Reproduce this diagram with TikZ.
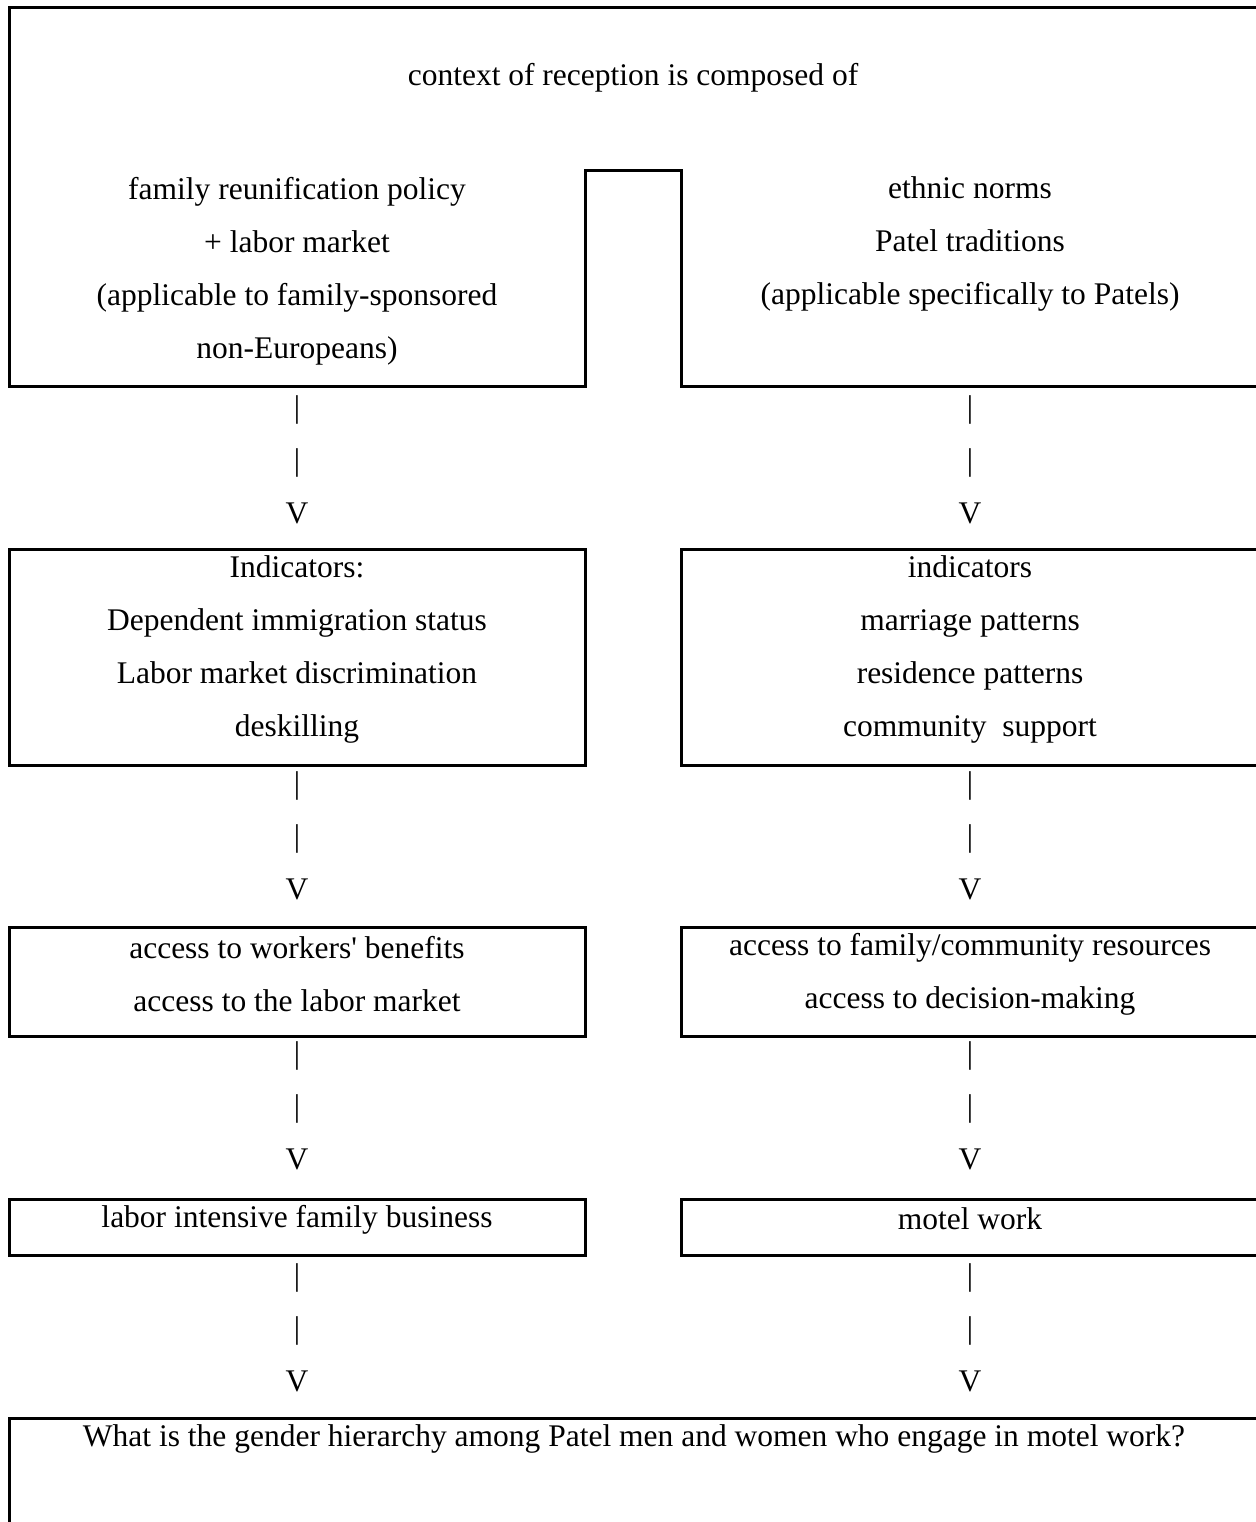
\documentclass[tikz,border=0pt]{standalone}
\usepackage{fontspec}
\setmainfont{Liberation Serif}
\usetikzlibrary{positioning}
\newlength\pxu
\setlength\pxu{0.381pt}
\tikzset{
  txt/.style   = {align=center, inner sep=0pt},
  box/.style   = {rectangle, draw=black, line width=3\pxu, minimum height=#1, inner sep=0pt},
  boxleft/.style  = {box=#1, minimum width=576\pxu},
  boxright/.style = {box=#1, minimum width=580\pxu},
  link/.style  = {align=center, inner sep=0pt},
  frame/.style = {draw=black, line width=3\pxu}
}

\begin{document}
\begin{tikzpicture}[x=1\pxu, y=-1\pxu, every node/.style={font=\fontsize{12}{20.2}\selectfont}]
  \clip (0,0) rectangle (1256,1522);

  % top frame: context of reception
  \draw [frame] (1262,8) -- (9.5,8) -- (9.5,386) -- (585,386) -- (585,171)
                -- (681,171) -- (681,386) -- (1262,386);
  \node (ctx)  [txt] at (633,78) {context of reception is composed of};
  \node (polL) [txt] at (297,271) {family reunification policy\\+ labor market\\(applicable to family-sponsored\\non-Europeans)};
  \node (polR) [txt] at (970,244) {ethnic norms\\Patel traditions\\(applicable specifically to Patels)};

  % indicators
  \node (indL) [boxleft=216\pxu]  at (297.5,657) {};
  \node (indR) [boxright=216\pxu] at (971,657)   {};
  \node (indLt) [txt] at (297,649) {Indicators:\\Dependent immigration status\\Labor market discrimination\\deskilling};
  \node (indRt) [txt] at (970,649) {indicators\\marriage patterns\\residence patterns\\community~~support};

  % access
  \node (accL) [boxleft=109\pxu]  at (297.5,981.5) {};
  \node (accR) [boxright=109\pxu] at (971,981.5)   {};
  \node (accLt) [txt] at (297,974) {access to workers\textquotesingle{} benefits\\access to the labor market};
  \node (accRt) [txt] at (970,974) {access to family/community resources\\access to decision-making};

  % work
  \node (wrkL) [boxleft=56\pxu]  at (297.5,1227) {};
  \node (wrkR) [boxright=56\pxu] at (971,1227)   {};
  \node (wrkLt) [txt] at (297,1220) {labor intensive family business};
  \node (wrkRt) [txt] at (970,1219) {motel work};

  % question
  \node (qst)  [box=200\pxu, minimum width=1254\pxu] at (636.5,1518) {};
  \node (qstt) [txt] at (634,1439) {What is the gender hierarchy among Patel men and women who engage in motel work?};

  % links
  \node (lnkL1) [link] at (297,460)  {|\\|\\V};
  \node (lnkR1) [link] at (970,460)  {|\\|\\V};
  \node (lnkL2) [link] at (297,836)  {|\\|\\V};
  \node (lnkR2) [link] at (970,836)  {|\\|\\V};
  \node (lnkL3) [link] at (297,1106) {|\\|\\V};
  \node (lnkR3) [link] at (970,1106) {|\\|\\V};
  \node (lnkL4) [link] at (297,1328) {|\\|\\V};
  \node (lnkR4) [link] at (970,1328) {|\\|\\V};
\end{tikzpicture}
\end{document}
